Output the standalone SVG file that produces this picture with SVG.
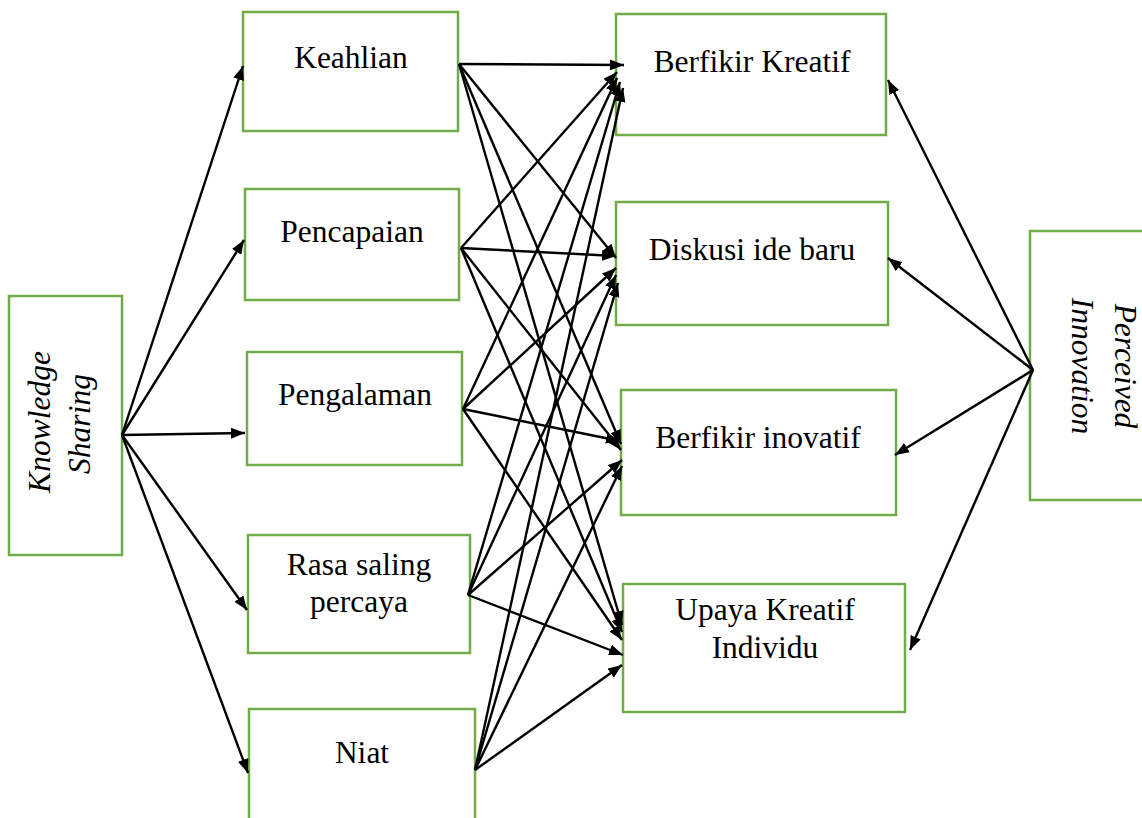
<svg xmlns="http://www.w3.org/2000/svg" width="1142" height="818" viewBox="0 0 1142 818">
  <style>
    .box { fill: #ffffff; stroke: #70ad47; stroke-width: 2.5; }
    .lbl { font-family: "Liberation Serif", "Times New Roman", serif; font-size: 31.5px; fill: #000000; text-anchor: middle; }
    .ital { font-style: italic; }
    .edge { stroke: #000000; stroke-width: 2.4; fill: none; marker-end: url(#arrow); }
  </style>
  <defs>
    <marker id="arrow" viewBox="0 0 14 11" refX="14" refY="5.5" markerWidth="14" markerHeight="11" markerUnits="userSpaceOnUse" orient="auto">
      <path d="M0,0 L14,5.5 L0,11 Z" fill="#000000"/>
    </marker>
  </defs>
  <rect width="1142" height="818" fill="#ffffff"/>

  <!-- nodes -->
  <g id="knowledge-sharing">
    <rect class="box" x="9" y="296" width="113" height="259"/>
    <text class="lbl ital" transform="translate(50,422) rotate(-90)">Knowledge</text>
    <text class="lbl ital" transform="translate(90,424) rotate(-90)">Sharing</text>
  </g>
  <g id="keahlian">
    <rect class="box" x="243" y="12" width="215" height="119"/>
    <text class="lbl" x="351" y="68">Keahlian</text>
  </g>
  <g id="pencapaian">
    <rect class="box" x="245" y="189" width="214" height="111"/>
    <text class="lbl" x="352" y="242">Pencapaian</text>
  </g>
  <g id="pengalaman">
    <rect class="box" x="247" y="352" width="215" height="113"/>
    <text class="lbl" x="355" y="405">Pengalaman</text>
  </g>
  <g id="rasa-saling-percaya">
    <rect class="box" x="248" y="535" width="222" height="118"/>
    <text class="lbl" x="359" y="575">Rasa saling</text>
    <text class="lbl" x="359" y="612">percaya</text>
  </g>
  <g id="niat">
    <rect class="box" x="249" y="709" width="226" height="115"/>
    <text class="lbl" x="362" y="763">Niat</text>
  </g>
  <g id="berfikir-kreatif">
    <rect class="box" x="616" y="14" width="270" height="121"/>
    <text class="lbl" x="752" y="72">Berfikir Kreatif</text>
  </g>
  <g id="diskusi-ide-baru">
    <rect class="box" x="616" y="202" width="272" height="123"/>
    <text class="lbl" x="752" y="260">Diskusi ide baru</text>
  </g>
  <g id="berfikir-inovatif">
    <rect class="box" x="621" y="390" width="275" height="125"/>
    <text class="lbl" x="758" y="448">Berfikir inovatif</text>
  </g>
  <g id="upaya-kreatif-individu">
    <rect class="box" x="623" y="584" width="282" height="128"/>
    <text class="lbl" x="765" y="620">Upaya Kreatif</text>
    <text class="lbl" x="765" y="658">Individu</text>
  </g>
  <g id="perceived-innovation">
    <rect class="box" x="1030" y="231" width="120" height="269"/>
    <text class="lbl ital" transform="translate(1115,366) rotate(90)">Perceived</text>
    <text class="lbl ital" transform="translate(1072,366) rotate(90)">Innovation</text>
  </g>

  <!-- connectors -->
  <g id="connectors">
    <!-- Knowledge Sharing to its dimensions -->
    <line class="edge" x1="122" y1="435" x2="243" y2="66"/>
    <line class="edge" x1="122" y1="435" x2="244" y2="240"/>
    <line class="edge" x1="122" y1="435" x2="245" y2="433"/>
    <line class="edge" x1="122" y1="435" x2="247" y2="610"/>
    <line class="edge" x1="122" y1="435" x2="248" y2="773"/>

    <!-- Perceived Innovation to its dimensions -->
    <line class="edge" x1="1033" y1="370" x2="888" y2="80"/>
    <line class="edge" x1="1033" y1="370" x2="888" y2="258"/>
    <line class="edge" x1="1033" y1="370" x2="895" y2="455"/>
    <line class="edge" x1="1033" y1="370" x2="910" y2="650"/>

    <!-- Keahlian -->
    <line class="edge" x1="459" y1="64" x2="624" y2="65"/>
    <line class="edge" x1="459" y1="64" x2="616" y2="258"/>
    <line class="edge" x1="459" y1="64" x2="621" y2="444"/>
    <line class="edge" x1="459" y1="64" x2="622" y2="625"/>

    <!-- Pencapaian -->
    <line class="edge" x1="461" y1="248" x2="617" y2="72"/>
    <line class="edge" x1="461" y1="248" x2="616" y2="256"/>
    <line class="edge" x1="461" y1="248" x2="621" y2="450"/>
    <line class="edge" x1="461" y1="248" x2="622" y2="632"/>

    <!-- Pengalaman -->
    <line class="edge" x1="463" y1="409" x2="617" y2="78"/>
    <line class="edge" x1="463" y1="409" x2="616" y2="268"/>
    <line class="edge" x1="463" y1="409" x2="620" y2="441"/>
    <line class="edge" x1="463" y1="409" x2="622" y2="640"/>

    <!-- Rasa saling percaya -->
    <line class="edge" x1="468" y1="595" x2="620" y2="82"/>
    <line class="edge" x1="468" y1="595" x2="616" y2="275"/>
    <line class="edge" x1="468" y1="595" x2="622" y2="460"/>
    <line class="edge" x1="468" y1="595" x2="623" y2="655"/>

    <!-- Niat -->
    <line class="edge" x1="475" y1="770" x2="623" y2="88"/>
    <line class="edge" x1="475" y1="770" x2="618" y2="283"/>
    <line class="edge" x1="475" y1="770" x2="622" y2="466"/>
    <line class="edge" x1="475" y1="770" x2="622" y2="665"/>
  </g>
</svg>
